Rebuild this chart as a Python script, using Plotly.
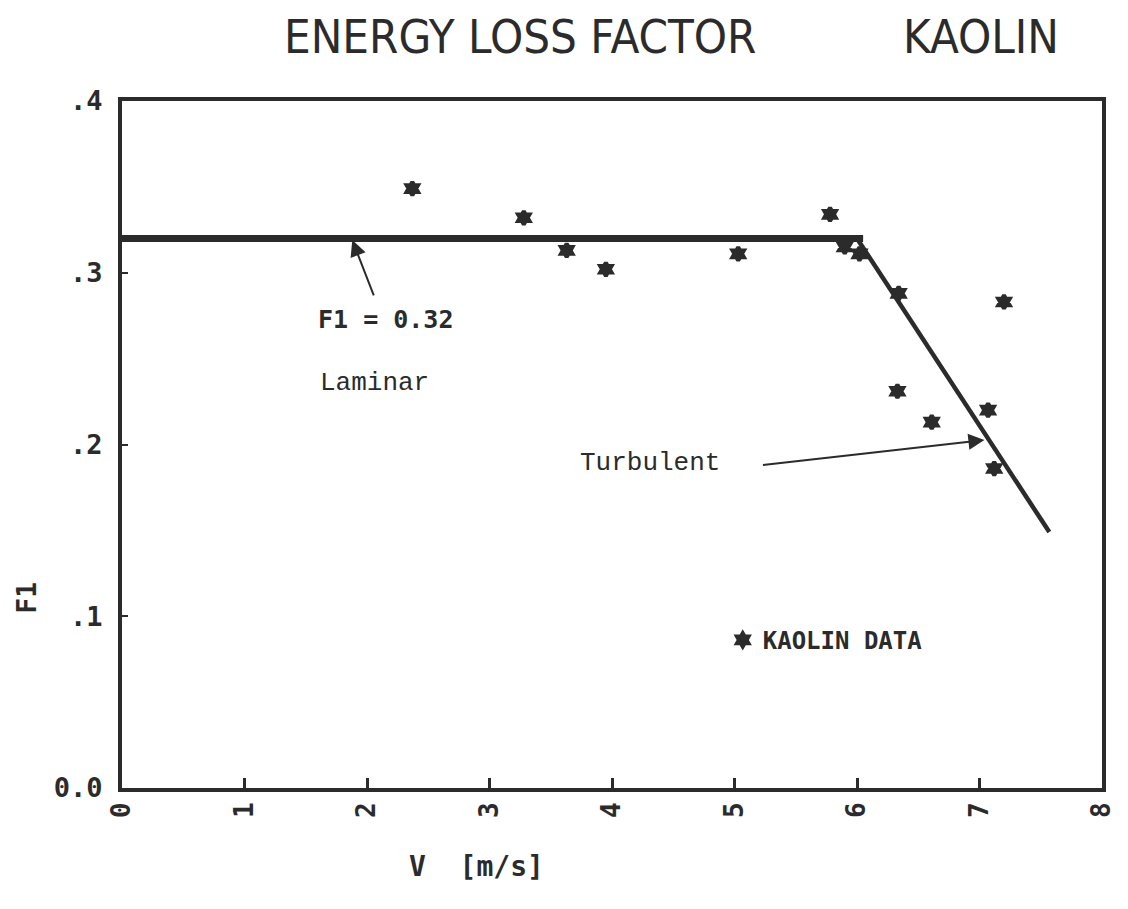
import plotly.graph_objects as go

# Measured energy loss factor for kaolin slurry
v_data = [2.37, 3.28, 3.63, 3.95, 5.03, 5.78, 5.90, 6.02, 6.34, 7.20, 6.33, 6.61, 7.07, 7.12]
f1_data = [0.349, 0.332, 0.313, 0.302, 0.311, 0.334, 0.315, 0.311, 0.288, 0.283, 0.231, 0.213, 0.220, 0.186]

# Fitted regimes
laminar_v = [0.0, 6.05]
laminar_f1 = [0.32, 0.32]
turbulent_v = [6.0, 7.57]
turbulent_f1 = [0.32, 0.149]

x_ticks = [0, 1, 2, 3, 4, 5, 6, 7, 8]
y_ticks = [0.0, 0.1, 0.2, 0.3, 0.4]
y_ticktext = ["0.0", ".1", ".2", ".3", ".4"]

INK = "#2b2b2b"
PLOT_FONT = "DejaVu Sans Mono"
TYPE_FONT = "Liberation Mono"
NARROW = "DejaVu Sans Condensed"

fig = go.Figure()

fig.add_trace(go.Scatter(
    x=laminar_v, y=laminar_f1, mode="lines",
    line=dict(color=INK, width=7), showlegend=False, hoverinfo="skip"))
fig.add_trace(go.Scatter(
    x=turbulent_v, y=turbulent_f1, mode="lines",
    line=dict(color=INK, width=4.5), showlegend=False, hoverinfo="skip"))
fig.add_trace(go.Scatter(
    x=v_data, y=f1_data, mode="markers", name="KAOLIN DATA",
    marker=dict(symbol="hexagram", size=10, color=INK,
                line=dict(color=INK, width=4))))

fig.update_layout(
    width=1128, height=909,
    margin=dict(l=122, r=22, t=101, b=121),
    paper_bgcolor="white", plot_bgcolor="white",
    font=dict(family=PLOT_FONT, color=INK),
    legend=dict(x=0.613, y=0.215, xanchor="left", yanchor="middle",
                bgcolor="rgba(0,0,0,0)", borderwidth=0,
                font=dict(family=PLOT_FONT, size=24, color=INK, weight="bold"),
                itemwidth=30),
)

fig.update_xaxes(
    range=[0, 8], tickvals=x_ticks, ticktext=[str(t) for t in x_ticks],
    tickangle=-90, ticks="inside", ticklen=10, tickwidth=3, tickcolor=INK,
    showline=True, linewidth=4, linecolor=INK, mirror=True,
    showgrid=False, zeroline=False,
    tickfont=dict(family=PLOT_FONT, size=26, color=INK, weight="bold"),
)
fig.update_yaxes(
    range=[0, 0.4], tickvals=y_ticks, ticktext=y_ticktext,
    ticks="inside", ticklen=6, tickwidth=2, tickcolor=INK,
    showline=True, linewidth=4, linecolor=INK, mirror=True,
    showgrid=False, zeroline=False, ticklabelstandoff=10,
    tickfont=dict(family=PLOT_FONT, size=27, color=INK, weight="bold"),
)

# Title
fig.add_annotation(text="ENERGY LOSS FACTOR", xref="paper", yref="paper",
                   x=(522 - 122) / 984, y=1 + (101 - 36) / 687,
                   showarrow=False, xanchor="center", yanchor="middle",
                   font=dict(family=NARROW, size=47, color=INK))
fig.add_annotation(text="KAOLIN", xref="paper", yref="paper",
                   x=(985 - 122) / 984, y=1 + (101 - 36) / 687,
                   showarrow=False, xanchor="center", yanchor="middle",
                   font=dict(family=NARROW, size=47, color=INK))

# Axis titles
fig.add_annotation(text="V  [m/s]", xref="paper", yref="paper",
                   x=(478 - 122) / 984, y=-(866 - 788) / 687,
                   showarrow=False, xanchor="center", yanchor="middle",
                   font=dict(family=PLOT_FONT, size=28, color=INK, weight="bold"))
fig.add_annotation(text="F1", xref="paper", yref="paper",
                   x=-(122 - 27) / 984, y=(788 - 598) / 687,
                   showarrow=False, xanchor="center", yanchor="middle",
                   textangle=-90,
                   font=dict(family=PLOT_FONT, size=26, color=INK, weight="bold"))

# Regime labels
fig.add_annotation(text="F1 = 0.32", x=2.15, y=0.2725,
                   showarrow=False, xanchor="center", yanchor="middle",
                   font=dict(family=PLOT_FONT, size=25, color=INK, weight="bold"))
fig.add_annotation(text="Laminar", x=2.06, y=0.236,
                   showarrow=False, xanchor="center", yanchor="middle",
                   font=dict(family=TYPE_FONT, size=26, color=INK))
fig.add_annotation(text="Turbulent", x=4.31, y=0.189,
                   showarrow=False, xanchor="center", yanchor="middle",
                   font=dict(family=TYPE_FONT, size=26, color=INK))

# Pointer arrows
fig.add_annotation(text="", x=1.88, y=0.319, ax=2.06, ay=0.286,
                   xref="x", yref="y", axref="x", ayref="y",
                   showarrow=True, arrowhead=2, arrowsize=1.6, arrowwidth=2,
                   arrowcolor=INK)
fig.add_annotation(text="", x=7.04, y=0.2026, ax=5.22, ay=0.188,
                   xref="x", yref="y", axref="x", ayref="y",
                   showarrow=True, arrowhead=2, arrowsize=1.6, arrowwidth=2,
                   arrowcolor=INK)

fig.write_html("out.html")
